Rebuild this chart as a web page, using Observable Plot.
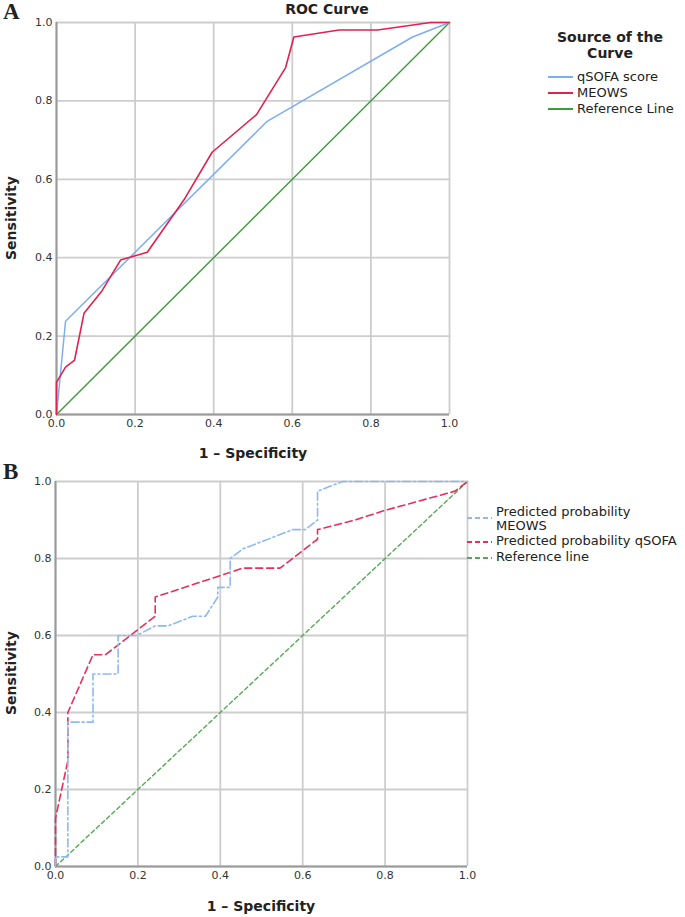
<!DOCTYPE html>
<html><head><meta charset="utf-8">
<script src="https://cdn.jsdelivr.net/npm/d3@7"></script>
<script src="https://cdn.jsdelivr.net/npm/@observablehq/plot@0.6"></script>
<style>
body{margin:0;background:#fff;}
#root{position:relative;width:685px;height:917px;font-family:"DejaVu Sans",sans-serif;color:#222;overflow:hidden;}
.abs{position:absolute;white-space:nowrap;}
.letter{font-family:"Liberation Serif",serif;font-weight:bold;font-size:23px;line-height:22px;}
.atitle{font-weight:bold;font-size:14px;text-align:center;}
.leg{font-size:13px;line-height:16px;color:#222;}
</style></head><body><div id="root"></div>
<script>
// ---- data ----
const tickValues = [0, 0.2, 0.4, 0.6, 0.8, 1.0];

// Panel A
const aQsofaFpr = [0, 0.023, 0.536, 0.906, 1];
const aQsofaTpr = [0, 0.238, 0.748, 0.963, 1];
const aMeowsFpr = [0, 0, 0.023, 0.046, 0.07, 0.116, 0.163, 0.231, 0.324, 0.396, 0.509, 0.583, 0.604, 0.719, 0.817, 0.952, 1];
const aMeowsTpr = [0, 0.082, 0.121, 0.139, 0.258, 0.316, 0.394, 0.414, 0.547, 0.669, 0.765, 0.885, 0.963, 0.981, 0.981, 1, 1];
const aRefFpr = [0, 1];
const aRefTpr = [0, 1];

// Panel B
const bMeowsFpr = [0, 0, 0.030, 0.030, 0.091, 0.091, 0.152, 0.152, 0.197, 0.242, 0.273, 0.333, 0.364, 0.394, 0.394, 0.424, 0.424, 0.455, 0.576, 0.606, 0.636, 0.636, 0.697, 1];
const bMeowsTpr = [0, 0.025, 0.025, 0.375, 0.375, 0.5, 0.5, 0.6, 0.6, 0.625, 0.625, 0.65, 0.65, 0.7, 0.725, 0.725, 0.8, 0.825, 0.875, 0.875, 0.9, 0.975, 1, 1];
const bQsofaFpr = [0, 0, 0.030, 0.030, 0.091, 0.121, 0.242, 0.242, 0.455, 0.545, 0.636, 0.636, 0.727, 0.80, 0.97, 1];
const bQsofaTpr = [0, 0.125, 0.275, 0.4, 0.55, 0.55, 0.65, 0.7, 0.775, 0.775, 0.85, 0.875, 0.9, 0.925, 0.975, 1];
const bRefFpr = [0, 1];
const bRefTpr = [0, 1];

const aColors = {qsofa: "#7eaef0", meows: "#e0224f", ref: "#3f9a3f"};
const bColors = {meows: "#8dbaf2", qsofa: "#e6305b", ref: "#55a955"};

const root = document.getElementById("root");

function curve(xs, ys, opts) {
  return Plot.line(d3.range(xs.length), {x: i => xs[i], y: i => ys[i], curve: "linear", ...opts});
}

function baseMarks() {
  return [
    Plot.gridX(tickValues, {stroke: "#cdcdcd", strokeOpacity: 1, strokeWidth: 1.8}),
    Plot.gridY(tickValues, {stroke: "#cdcdcd", strokeOpacity: 1, strokeWidth: 1.8}),
    Plot.axisX(tickValues, {tickSize: 0, tickPadding: 5, tickFormat: d3.format(".1f"), label: null}),
    Plot.axisY(tickValues, {tickSize: 0, tickPadding: 4, tickFormat: d3.format(".1f"), label: null}),
    Plot.ruleX([0], {stroke: "#9a9a9a", strokeWidth: 2}),
    Plot.ruleY([0], {stroke: "#9a9a9a", strokeWidth: 2})
  ];
}

const style = {fontFamily: "DejaVu Sans, sans-serif", fontSize: "11px", color: "#333", background: "transparent", overflow: "visible"};

// Panel A plot
const plotA = Plot.plot({
  width: 470, height: 470,
  marginTop: 22, marginLeft: 56, marginRight: 21, marginBottom: 56,
  x: {domain: [0, 1]}, y: {domain: [0, 1]},
  style,
  marks: [
    ...baseMarks(),
    curve(aRefFpr, aRefTpr, {stroke: aColors.ref, strokeWidth: 1.4}),
    curve(aQsofaFpr, aQsofaTpr, {stroke: aColors.qsofa, strokeWidth: 1.5}),
    curve(aMeowsFpr, aMeowsTpr, {stroke: aColors.meows, strokeWidth: 1.6})
  ]
});
plotA.style.position = "absolute"; plotA.style.left = "0px"; plotA.style.top = "0px";
root.appendChild(plotA);

// Panel B plot
const plotB = Plot.plot({
  width: 480, height: 456,
  marginTop: 21, marginLeft: 55, marginRight: 13, marginBottom: 50,
  x: {domain: [0, 1]}, y: {domain: [0, 1]},
  style,
  marks: [
    ...baseMarks(),
    curve(bRefFpr, bRefTpr, {stroke: bColors.ref, strokeWidth: 1.4, strokeDasharray: "4,3"}),
    curve(bQsofaFpr, bQsofaTpr, {stroke: bColors.qsofa, strokeWidth: 1.6, strokeDasharray: "7,4"}),
    curve(bMeowsFpr, bMeowsTpr, {stroke: bColors.meows, strokeWidth: 1.6, strokeDasharray: "8,3,2,3"})
  ]
});
plotB.style.position = "absolute"; plotB.style.left = "0px"; plotB.style.top = "460px";
root.appendChild(plotB);

// ---- text / legends ----
function addDiv(html, css, cls) {
  const d = document.createElement("div");
  d.className = "abs " + (cls || "");
  d.innerHTML = html;
  Object.assign(d.style, css);
  root.appendChild(d);
  return d;
}
function swatch(color, dash) {
  return `<svg width="25" height="4" style="display:block"><line x1="0" x2="25" y1="2" y2="2" stroke="${color}" stroke-width="2" ${dash ? `stroke-dasharray="${dash}"` : ""}/></svg>`;
}

addDiv("A", {left: "3px", top: "1px"}, "letter");
addDiv("B", {left: "3px", top: "461px"}, "letter");

addDiv("ROC Curve", {left: "267px", width: "120px", top: "0px", lineHeight: "18px"}, "atitle");
addDiv("1 – Specificity", {left: "153px", width: "200px", top: "444px", lineHeight: "18px"}, "atitle");
addDiv("1 – Specificity", {left: "161px", width: "200px", top: "897px", lineHeight: "18px"}, "atitle");
addDiv("Sensitivity", {left: "-89px", width: "200px", top: "209px", lineHeight: "18px", transform: "rotate(-90deg)"}, "atitle");
addDiv("Sensitivity", {left: "-89px", width: "200px", top: "664px", lineHeight: "18px", transform: "rotate(-90deg)"}, "atitle");

// Legend A
addDiv("Source of the<br>Curve", {left: "530px", width: "160px", top: "29px", lineHeight: "16px"}, "atitle");
const legA = [["qSOFA score", aColors.qsofa], ["MEOWS", aColors.meows], ["Reference Line", aColors.ref]];
legA.forEach(([name, c], i) => {
  const cy = 77 + i * 16;
  addDiv(swatch(c), {left: "548px", top: (cy - 2) + "px"});
  addDiv(name, {left: "577px", top: (cy - 8) + "px"}, "leg");
});

// Legend B
const legB = [
  {lines: ["Predicted probability", "MEOWS"], c: bColors.meows, dash: "5,3", top: 505, sw: 518},
  {lines: ["Predicted probability qSOFA"], c: bColors.qsofa, dash: "5,3", top: 534, sw: 542},
  {lines: ["Reference line"], c: bColors.ref, dash: "5,3", top: 550, sw: 558}
];
legB.forEach(item => {
  addDiv(swatch(item.c, item.dash), {left: "467px", top: (item.sw - 2) + "px"});
  addDiv(item.lines.join("<br>"), {left: "496px", top: item.top + "px", lineHeight: "14px"}, "leg");
});
</script>
</body></html>
